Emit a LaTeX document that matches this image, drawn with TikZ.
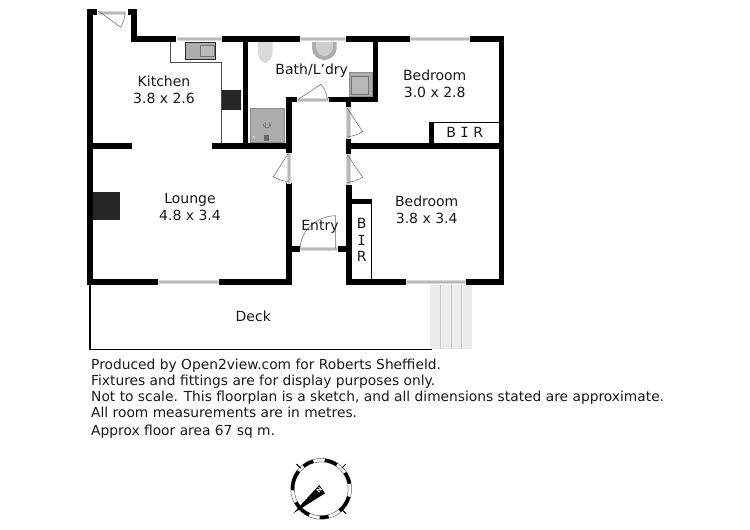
\documentclass[tikz,border=0pt]{standalone}
\usepackage{fontspec}
\setmainfont{DejaVu Sans}
\newfontfamily\slabI{DejaVu Sans Mono}
\definecolor{wingray}{gray}{0.72}
\definecolor{fixgray}{gray}{0.68}
\definecolor{lightfix}{gray}{0.85}
\definecolor{stair}{gray}{0.92}
\definecolor{stairline}{gray}{0.78}
\definecolor{ink}{gray}{0.1}
\tikzset{
  wall/.style={fill=black},
  win/.style={fill=wingray,draw=lightfix,line width=0.5pt},
  thinwall/.style={draw=black,line width=1.3pt},
  bench/.style={draw=black!70,line width=0.7pt},
  leaf/.style={draw=black!60,line width=0.5pt},
  fixture/.style={fill=fixgray,draw=black!45,line width=0.5pt},
  room/.style={font=\fontsize{14}{15.5}\selectfont,text=ink,inner sep=0pt,align=center},
  foot/.style={font=\fontsize{13.8}{15}\selectfont,text=ink,inner sep=0pt,anchor=base west},
}
\begin{document}
\begin{tikzpicture}[x=1pt,y=-1pt]
\useasboundingbox (0,0) rectangle (750,530);
\fill[white] (0,0) rectangle (750,530);
% deck and stairs
\fill[stair] (430,284.5) rectangle (472.3,349);
\foreach \sx in {440.7,451.7,461.7} \draw[stairline,line width=0.8pt] (\sx,284.5) -- (\sx,349);
\draw[thinwall] (90,284) -- (90,349.3) -- (431.7,349.3);
% bench lines
\draw[bench] (170.7,41) -- (170.7,62) -- (221.7,62) -- (221.7,143.5);
% fixtures
\fill[fixgray,draw=black!85,line width=1pt] (185.5,42) rectangle (215.7,59.5);
\draw[black!55,line width=0.6pt,fill=fixgray!85!white] (200,45) rectangle (214.3,56.7);
\fill[black!85] (221.7,90) rectangle (241,110);
\fill[black!85] (92.7,192.3) rectangle (120,220);
\fill[fixture] (250,108.5) rectangle (284,142.7);
\draw[black!50,line width=0.7pt] (265,122) -- (265,127) (269,122) -- (269,127);
\draw[black!55,line width=0.7pt] (263,124) arc[start angle=180,end angle=0,radius=4];
\fill[black!60] (264,135) rectangle (269,141);
\fill[white] (254,137) circle[radius=0.8];
\fill[lightfix] (258,42) -- (272.7,42) -- (272.7,52) .. controls (272.7,58) and (268,63) .. (265.3,63) .. controls (262,63) and (258,58) .. (258,52) -- cycle;
\fill[fixgray] (312,42) -- (336.7,42) -- (336.7,48) .. controls (336.7,55) and (330,60) .. (324.3,60) .. controls (318,60) and (312,55) .. (312,48) -- cycle;
\fill[fixgray!60!white] (316,42) -- (333,42) -- (333,47) .. controls (333,52) and (328,56) .. (324.5,56) .. controls (320,56) and (316,52) .. (316,47) -- cycle;
\fill[fixture] (349.3,72.7) rectangle (372.7,96.7);
\draw[black!55,fill=wingray,line width=0.5pt] (351.5,76) rectangle (368.5,94);
% walls
\fill[wall] (87.3,9) rectangle (93.3,284.7);
\fill[wall] (87.3,9) rectangle (96.5,15);
\fill[wall] (127.7,9) rectangle (136.7,15);
\fill[wall] (130.7,9) rectangle (136.7,41.5);
\fill[wall] (130.7,35.5) rectangle (176,41.5);
\fill[wall] (222,35.5) rectangle (300,41.5);
\fill[wall] (346,35.5) rectangle (410,41.5);
\fill[wall] (470,35.5) rectangle (504.3,41.5);
\fill[wall] (499,35.5) rectangle (504.3,284.7);
\fill[wall] (242.7,41) rectangle (248.3,146);
\fill[wall] (93,143.3) rectangle (131.7,149.3);
\fill[wall] (211.7,143.3) rectangle (291.7,149.3);
\fill[wall] (285.7,96.7) rectangle (291.7,152.7);
\fill[wall] (285.7,96.7) rectangle (296.7,102.3);
\fill[wall] (328,96.7) rectangle (378.3,102.3);
\fill[wall] (372.7,41) rectangle (378.3,102.3);
\fill[wall] (345.5,102) rectangle (351,107);
\fill[wall] (345.5,138) rectangle (351,154);
\fill[wall] (351,143.3) rectangle (499.5,149.3);
\fill[wall] (429,121.7) rectangle (434.3,143.5);
\draw[black,line width=1.2pt] (434,122.3) -- (499.5,122.3);
\fill[wall] (285.7,183.3) rectangle (291.7,284.7);
\fill[wall] (291.5,246) rectangle (299.5,251.7);
\fill[wall] (338,246) rectangle (346.5,251.7);
\fill[wall] (346,185) rectangle (351.7,284.7);
\fill[wall] (87.3,278.7) rectangle (158,284.7);
\fill[wall] (219,278.7) rectangle (291.7,284.7);
\fill[wall] (346,278.7) rectangle (406,284.7);
\fill[wall] (466,278.7) rectangle (504.3,284.7);
\fill[wall] (351.7,198.7) rectangle (371.9,204);
\draw[black,line width=1.3pt] (371.5,204) -- (371.5,279);
% windows
\fill[win] (98,11) rectangle (125,14);
\fill[win] (177,37) rectangle (221.7,40);
\fill[win] (300.3,37) rectangle (345.7,40);
\fill[win] (410.3,37) rectangle (469.7,40);
\fill[win] (158.3,280.2) rectangle (218.7,283.2);
\fill[win] (406.3,280.2) rectangle (465.7,283.2);
% door bars
\fill[win] (297,97.8) rectangle (328,101);
\fill[win] (346.7,107) rectangle (349.9,138);
\fill[win] (346.7,154) rectangle (349.9,184.7);
\fill[win] (287,153) rectangle (290.2,183);
\fill[win] (300,247.3) rectangle (337.7,250.5);
% door swings
\draw[leaf] (98.3,11) -- (120.7,27.3) .. controls (123,23) and (125,18) .. (125,13.3);
\draw[leaf] (298.3,99.3) -- (321,84.3) .. controls (324,88) and (327,94) .. (327.3,99.3);
\draw[leaf] (347.3,108.3) -- (362.7,131.7) .. controls (358,134.5) and (353,136.3) .. (347.3,136.7);
\draw[leaf] (347.3,155) -- (362.7,177.3) .. controls (358,180) and (353,182) .. (347.3,182.3);
\draw[leaf] (288.3,153.3) -- (273.3,176.7) .. controls (278,179.5) and (283,181.3) .. (288.3,181.7);
\draw[leaf] (335.7,248.3) -- (335.7,215.7) .. controls (317,216) and (301,230) .. (300,248.3);
% labels
\node[room] (kitchen) at (164,89.5) {Kitchen\\[1.5pt]3.8 x 2.6};
\node[room] (bath) at (311.7,70.7) {Bath/L'dry};
\node[room] (bed1) at (434.7,83.5) {Bedroom\\[1.5pt]3.0 x 2.8};
\node[room] (bir1) at (464.7,132.7) {B {\slabI I} R};
\node[room] (lounge) at (190,206.5) {Lounge\\[1.5pt]4.8 x 3.4};
\node[room] (deck) at (253.3,316) {Deck};
\node[room] (entry) at (320,227) {Entry};
\node[room] (bed2) at (426.7,210) {Bedroom\\[1.5pt]3.8 x 3.4};
\node[room] (bir2b) at (361.7,223) {B};
\node[room] (bir2i) at (361.7,240) {\slabI I};
\node[room] (bir2r) at (361.7,256.7) {R};
% footer
\node[foot] (f1) at (91,369) {Produced by Open2view.com for Roberts Sheffield.};
\node[foot] (f2) at (91,385) {Fixtures and fittings are for display purposes only.};
\node[foot] (f3) at (91,401) {Not to scale. This floorplan is a sketch, and all dimensions stated are approximate.};
\node[foot] (f4) at (91,417) {All room measurements are in metres.};
\node[foot] (f5) at (91,435) {Approx floor area 67 sq m.};
% compass
\begin{scope}[shift={(321.2,488.8)}]
\draw[black!60,line width=0.5pt] (0,0) circle[radius=30.4];
\draw[black!60,line width=0.5pt] (0,0) circle[radius=27];
\foreach \a/\b in {106/128,57/83,10/34,-50/-16,267/285,208/245,142/183}
  \draw[black,line width=3.4pt,y=1pt] (\a:28.7) arc[start angle=\a,end angle=\b,radius=28.7];
\foreach \a in {45,135,-45}
  \draw[black,line width=1pt,y=1pt] (\a:29) -- (\a:35);
\fill[black] (-28,24.5) -- (-2,-3.8) -- (3.8,4.5) -- cycle;
\node[font=\fontsize{6}{6}\selectfont\bfseries,text=white,rotate=50,inner sep=0pt] (north) at (-2,1.5) {N};
\end{scope}
\end{tikzpicture}
\end{document}
